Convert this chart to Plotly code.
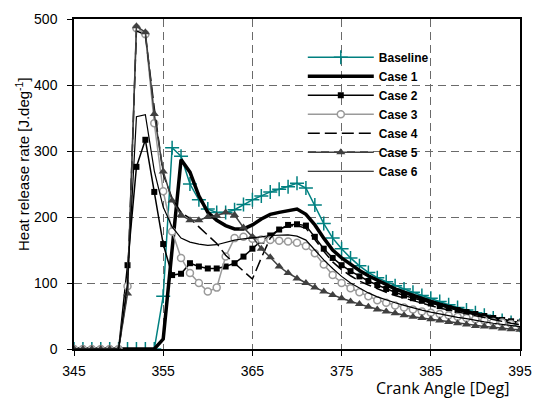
import plotly.graph_objects as go

# Crank angle grid (deg), one sample per degree
crank_angle = list(range(345, 396))

zeros_345_354 = [0] * 10
zeros_345_350 = [0] * 6

baseline = zeros_345_354 + [
    80, 305, 292, 250, 226, 212, 207, 207, 211, 219,
    226, 232, 238, 242, 246, 251, 244, 218, 190, 168,
    152, 138, 126, 116, 108, 102, 96, 91, 86, 81,
    77, 72, 67, 63, 59, 55, 51, 47, 43, 40, 36]

case1 = zeros_345_354 + [
    15, 150, 287, 268, 232, 207, 195, 187, 182, 182,
    188, 197, 204, 207, 209, 212, 204, 188, 168, 150,
    138, 128, 119, 111, 104, 97, 91, 86, 81, 76,
    72, 68, 64, 60, 57, 53, 50, 47, 44, 41, 38]

case2 = zeros_345_350 + [
    127, 276, 317, 238, 159, 112, 114, 130, 125, 122,
    122, 125, 130, 140, 152, 164, 172, 181, 188, 189,
    187, 170, 152, 138, 127, 118, 110, 103, 97, 91,
    86, 81, 77, 73, 69, 65, 62, 59, 56, 53,
    50, 47, 44, 42, 40]

case3 = zeros_345_350 + [
    95, 486, 477, 342, 239, 178, 138, 115, 100, 87,
    93, 140, 168, 170, 167, 166, 165, 164, 163, 161,
    156, 145, 128, 112, 100, 92, 86, 80, 74, 70,
    66, 63, 60, 57, 55, 53, 51, 49, 47, 45,
    43, 41, 40, 38, 37]

case4 = zeros_345_350 + [
    90, 482, 476, 365, 265, 228, 207, 198, 185, 172,
    160, 142, 130, 117, 106, 138, 168, 182, 186, 187,
    183, 166, 148, 132, 120, 111, 103, 97, 91, 86,
    81, 77, 73, 69, 65, 62, 59, 56, 53, 50,
    47, 44, 42, 39, 37]

case5 = zeros_345_350 + [
    84, 489, 480, 356, 269, 225, 203, 195, 195, 200,
    202, 207, 203, 184, 170, 152, 139, 125, 115, 107,
    100, 93, 87, 82, 77, 72, 68, 64, 60, 57,
    54, 51, 49, 47, 45, 43, 41, 39, 37, 35,
    34, 33, 31, 30, 29]

case6 = zeros_345_350 + [
    100, 352, 355, 270, 215, 185, 168, 162, 159, 157,
    158, 162, 165, 167, 168, 170, 172, 173, 173, 171,
    165, 150, 135, 122, 110, 100, 92, 85, 79, 74,
    70, 66, 62, 59, 56, 53, 50, 48, 46, 43,
    41, 39, 37, 36, 34]

x_ticks = [345, 355, 365, 375, 385, 395]
y_ticks = [0, 100, 200, 300, 400, 500]

TEAL = "#008080"
DARK = "#404040"
GREY = "#9a9a9a"
FONT = "Liberation Sans, Arial, sans-serif"

fig = go.Figure()

fig.add_trace(go.Scatter(
    x=crank_angle, y=baseline, name="Baseline", mode="lines+markers",
    line=dict(color=TEAL, width=1.5),
    marker=dict(symbol="cross-thin", size=10, line=dict(color=TEAL, width=1.5))))

fig.add_trace(go.Scatter(
    x=crank_angle, y=case1, name="Case 1", mode="lines",
    line=dict(color="black", width=3.5)))

fig.add_trace(go.Scatter(
    x=crank_angle, y=case2, name="Case 2", mode="lines+markers",
    line=dict(color="black", width=1.5),
    marker=dict(symbol="square", size=6, color="black")))

fig.add_trace(go.Scatter(
    x=crank_angle, y=case3, name="Case 3", mode="lines+markers",
    line=dict(color=GREY, width=1.5),
    marker=dict(symbol="circle", size=7, color="white",
                line=dict(color=GREY, width=1.5))))

fig.add_trace(go.Scatter(
    x=crank_angle, y=case4, name="Case 4", mode="lines",
    line=dict(color="black", width=1.5, dash="12px,5px")))

fig.add_trace(go.Scatter(
    x=crank_angle, y=case5, name="Case 5", mode="lines+markers",
    line=dict(color=DARK, width=1.5),
    marker=dict(symbol="triangle-up", size=8, color=DARK)))

fig.add_trace(go.Scatter(
    x=crank_angle, y=case6, name="Case 6", mode="lines",
    line=dict(color="black", width=1.2)))

axis_common = dict(
    showline=True, linecolor="black", linewidth=1.5, mirror=True,
    ticks="outside", ticklen=5, tickcolor="black", tickwidth=1,
    showgrid=True, gridcolor="#6a6a6a", gridwidth=1, griddash="8px,5px",
    zeroline=False,
    tickfont=dict(family=FONT, size=14, color="black"),
)

fig.update_layout(
    width=534, height=399,
    margin=dict(l=74, r=14, t=19, b=50, autoexpand=False),
    paper_bgcolor="white", plot_bgcolor="white",
    xaxis=dict(range=[345, 395], tickvals=x_ticks, ticklabelstandoff=3,
               **axis_common),
    yaxis=dict(range=[0, 500], tickvals=y_ticks, ticklabelstandoff=7,
               **axis_common),
    legend=dict(
        x=0.513, y=0.928, xanchor="left", yanchor="top",
        bgcolor="rgba(0,0,0,0)", itemwidth=66,
        font=dict(family=FONT, size=12, color="black", weight="bold"),
        tracegroupgap=0,
    ),
    annotations=[
        dict(text="Heat release rate [J.deg<sup>-1</sup>]",
             xref="paper", yref="paper", x=-0.117, y=0.56,
             xanchor="center", yanchor="middle",
             textangle=-90, showarrow=False,
             font=dict(family=FONT, size=15, color="black")),
        dict(text="Crank Angle [Deg]",
             xref="paper", yref="paper", x=0.827, y=-0.118,
             xanchor="center", yanchor="middle",
             showarrow=False,
             font=dict(family="Open Sans, Liberation Sans", size=16, color="black")),
    ],
)

fig.write_html("out.html")
